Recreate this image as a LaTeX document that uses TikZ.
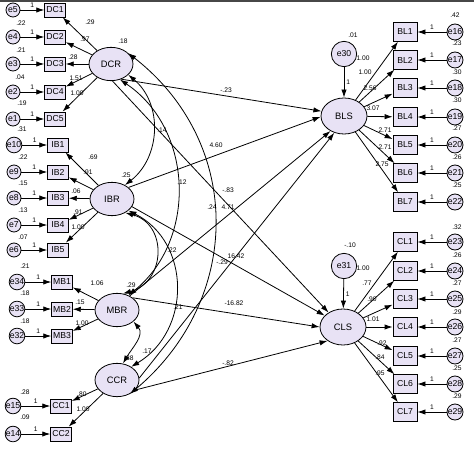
\documentclass[tikz,border=0pt]{standalone}
\usepackage{fontspec}
\setmainfont{Liberation Sans}
\usetikzlibrary{shapes.geometric, arrows.meta}

\definecolor{lav}{RGB}{232,226,245}

\begin{document}
\begin{tikzpicture}[x=0.75pt, y=0.75pt, line width=0.6pt,
  >={Latex[length=6pt,width=4pt]},
  obs/.style={draw, fill=lav, minimum width=15.5pt, minimum height=10.5pt, inner sep=0pt, font=\fontsize{6.5}{7}\selectfont},
  obsr/.style={obs, minimum width=18pt, minimum height=14pt},
  err/.style={draw, circle, fill=lav, minimum size=10.5pt, inner sep=0pt, font=\fontsize{6.5}{7}\selectfont},
  errr/.style={err, minimum size=12pt},
  dist/.style={err, minimum size=19pt},
  lat/.style={draw, ellipse, fill=lav, minimum width=33pt, minimum height=25pt, inner sep=0pt, font=\fontsize{7}{8}\selectfont},
  latr/.style={lat, minimum width=34.5pt, minimum height=27pt},
  coef/.style={font=\fontsize{5}{6}\selectfont, inner sep=0pt},
  cov/.style={<->, looseness=1.05}]
\useasboundingbox (0,0) rectangle (474,-449);
\fill[black!72] (0,0) rectangle (474,-2.5);

% exogenous factors
\node[lat] (DCR) at (111,-64) {DCR};
\node[lat] (IBR) at (112,-199) {IBR};
\node[lat] (MBR) at (117,-310) {MBR};
\node[lat] (CCR) at (117,-380) {CCR};

% endogenous factors
\node[latr] (BLS) at (344,-116) {BLS};
\node[latr] (CLS) at (343,-327) {CLS};
\node[dist] (e30) at (344,-54) {e30};
\node[dist] (e31) at (344,-266) {e31};
\draw[->] (e30) -- node[coef, right=1.5pt] {1} (BLS);
\draw[->] (e31) -- node[coef, right=1.5pt] {1} (CLS);

% indicators, left
\foreach \i/\y/\e in {1/10/5, 2/37/4, 3/64/3, 4/92/2, 5/119/1} {
  \node[obs] (DC\i) at (55,-\y) {DC\i};
  \node[err] (e\e) at (13,-\y) {e\e};
  \draw[->] (e\e) -- node[coef, above=1.5pt] {1} (DC\i);
  \draw[->] (DCR) -- (DC\i);
}
\foreach \i/\y/\e in {1/145/10, 2/172/9, 3/198/8, 4/225/7, 5/250/6} {
  \node[obs] (IB\i) at (58,-\y) {IB\i};
  \node[err] (e\e) at (14,-\y) {e\e};
  \draw[->] (e\e) -- node[coef, above=1.5pt] {1} (IB\i);
  \draw[->] (IBR) -- (IB\i);
}
\foreach \i/\y/\e in {1/282/34, 2/309/33, 3/336/32} {
  \node[obs] (MB\i) at (62,-\y) {MB\i};
  \node[err] (e\e) at (17,-\y) {e\e};
  \draw[->] (e\e) -- node[coef, above=1.5pt] {1} (MB\i);
  \draw[->] (MBR) -- (MB\i);
}
\foreach \i/\y/\e in {1/406/15, 2/434/14} {
  \node[obs] (CC\i) at (61,-\y) {CC\i};
  \node[err] (e\e) at (13,-\y) {e\e};
  \draw[->] (e\e) -- node[coef, above=1.5pt] {1} (CC\i);
  \draw[->] (CCR) -- (CC\i);
}

% indicators, right
\foreach \i/\y/\e in {1/32/16, 2/60/17, 3/88/18, 4/117/19, 5/145/20, 6/173/21, 7/202/22} {
  \node[obsr] (BL\i) at (405,-\y) {BL\i};
  \node[errr] (e\e) at (455,-\y) {e\e};
  \draw[->] (e\e) -- node[coef, above=1.5pt] {1} (BL\i);
  \draw[->] (BLS) -- (BL\i);
}
\foreach \i/\y/\e in {1/242/23, 2/271/24, 3/299/25, 4/327/26, 5/356/27, 6/384/28, 7/412/29} {
  \node[obsr] (CL\i) at (405,-\y) {CL\i};
  \node[errr] (e\e) at (455,-\y) {e\e};
  \draw[->] (e\e) -- node[coef, above=1.5pt] {1} (CL\i);
  \draw[->] (CLS) -- (CL\i);
}

% structural paths
\draw[->] (DCR.-56) -- (BLS.168);
\draw[->] (IBR.35) -- (BLS.182);
\draw[->] (MBR.48) -- (BLS.228);
\draw[->] (CCR.5) -- (BLS.240);
\draw[->] (DCR.-85) -- (CLS.135);
\draw[->] (IBR.-21) -- (CLS.148);
\draw[->] (MBR.38) -- (CLS.180);
\draw[->] (CCR.-29) -- (CLS.222);

% covariances
\draw[cov] (DCR.-32) to[out=-40, in=38] (IBR.47);
\draw[cov] (DCR.-60) to[out=-34, in=39] (MBR.52);
\draw[cov] (DCR.32) to[out=-38, in=40, looseness=1.1] (CCR.-47);
\draw[cov] (IBR.-46) to[out=-15, in=15, looseness=1.4] (MBR.70);
\draw[cov] (IBR.-35) to[out=-27, in=31, looseness=1.15] (CCR.43);
\draw[cov] (MBR.-35) to[out=-50, in=60] (CCR.70);

% estimates
\foreach \t/\x/\y [count=\k] in {
  .22/21/23, .21/21/50, .04/20/77, .19/22/103, .31/22/129,
  .22/23/157, .15/23/183, .13/23/210, .07/23/237, .21/25/266,
  .18/25/293, .18/25/321, .28/25/392, .09/25/417,
  .18/123/41, .25/126/175, .29/131/285, .38/129/358,
  .01/353/35, -.10/350/245,
  .42/455/15, .23/457/43, .30/457/72, .30/457/100, .27/457/128, .26/457/157, .25/457/185,
  .32/457/227, .26/457/255, .27/457/283, .29/457/312, .27/457/340, .25/457/368, .29/457/396,
  .29/90/22, .97/85/39, .28/73/57, 1.51/76/78, 1.00/77/93,
  .69/93/157, .91/88/172, .06/76/191, .91/78/212, 1.00/78/227,
  1.06/97/283, .15/80/302, 1.00/82/323,
  .80/82/394, 1.00/83/409,
  1.00/363/58, 1.00/365/72, 2.56/370/88, 3.07/373/108, 2.71/385/130, 2.71/385/147, 2.75/382/164,
  1.00/363/268, .77/367/283, .90/372/299, 1.01/373/319, .92/382/343, .84/380/357, .95/380/373,
  -.23/226/90, 4.60/216/145, -.83/228/190, 4.71/228/207, -.29/222/262, 16.42/236/256,
  -16.82/234/303, -.82/228/363,
  .14/162/130, .12/182/182, .24/212/207, .22/172/250, .21/178/307, .17/147/351}
  \node[coef] (est\k) at (\x,-\y) {\t};
\end{tikzpicture}
\end{document}
